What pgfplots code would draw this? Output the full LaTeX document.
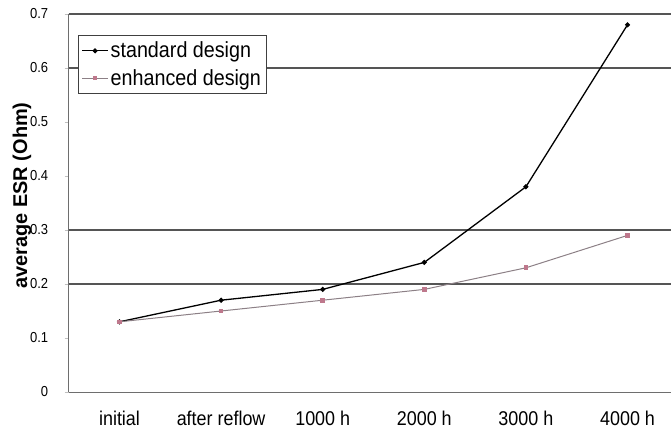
\documentclass[border=0pt]{standalone}
\usepackage{fontspec}
\setmainfont{Liberation Sans}[FakeStretch=0.9]
\newfontfamily\ylabfont{Liberation Sans}[FakeStretch=1.0]
\usepackage{pgfplots}
\pgfplotsset{compat=1.18}
\definecolor{gridc}{RGB}{85,85,85}
\definecolor{axc}{RGB}{110,110,110}
\definecolor{enhline}{RGB}{140,128,134}
\definecolor{enhmark}{RGB}{190,120,140}
\begin{document}
\begin{tikzpicture}
\path[use as bounding box] (-68.7bp,-37bp) rectangle (602.3bp,392bp);
\begin{axis}[
  scale only axis,
  width=602.3bp, height=378bp,
  xmin=-0.5, xmax=5.428,
  ymin=0, ymax=0.7,
  axis x line*=bottom, axis y line*=left,
  axis line style={draw=axc, line width=0.9bp},
  xtick={0,1,2,3,4,5},
  xticklabels={initial, after reflow, 1000 h, 2000 h, 3000 h, 4000 h},
  x tick label style={font=\fontsize{20}{24}\selectfont, yshift=-12bp},
  major x tick style={draw=none},
  ytick={0,0.1,0.2,0.3,0.4,0.5,0.6,0.7},
  yticklabels={0,0.1,0.2,0.3,0.4,0.5,0.6,0.7},
  y tick label style={font=\fontsize{14.5}{17}\selectfont, xshift=-13bp},
  tick align=outside,
  major tick length=4bp,
  major y tick style={draw=gray!50, line width=0.8bp},
  extra y ticks={0.2,0.3,0.6,0.7},
  extra y tick labels={},
  extra y tick style={grid=major, major grid style={draw=gridc, line width=1.1bp}, major tick length=0bp},
  ylabel={\ylabfont\bfseries average ESR (Ohm)},
  ylabel style={font=\fontsize{20}{24}\selectfont, at={(rel axis cs:-0.0775,0.52)}, anchor=center},
  legend style={at={(0.0154,0.944)}, anchor=north west, draw=black!75, line width=0.9bp, fill=white,
    font=\fontsize{22}{24}\selectfont, inner xsep=3bp, inner ysep=4.5bp, row sep=6bp,
    cells={anchor=west}},
  legend image code/.code={
    \draw[mark repeat=2,mark phase=2,#1] plot coordinates {(0bp,0bp)(13bp,0bp)(26bp,0bp)};
  },
  clip=false,
]
\addplot[black, line width=1.3bp, mark=*, mark size=1.8bp, mark options={fill=black}]
  coordinates {(0,0.13) (1,0.17) (2,0.19) (3,0.24) (4,0.38) (5,0.68)};
\addlegendentry{standard design}
\addplot[enhline, line width=1bp, mark=square*, mark size=1.8bp, mark options={draw=enhmark, fill=enhmark}]
  coordinates {(0,0.13) (1,0.15) (2,0.17) (3,0.19) (4,0.23) (5,0.29)};
\addlegendentry{enhanced design}
\end{axis}
\end{tikzpicture}
\end{document}
